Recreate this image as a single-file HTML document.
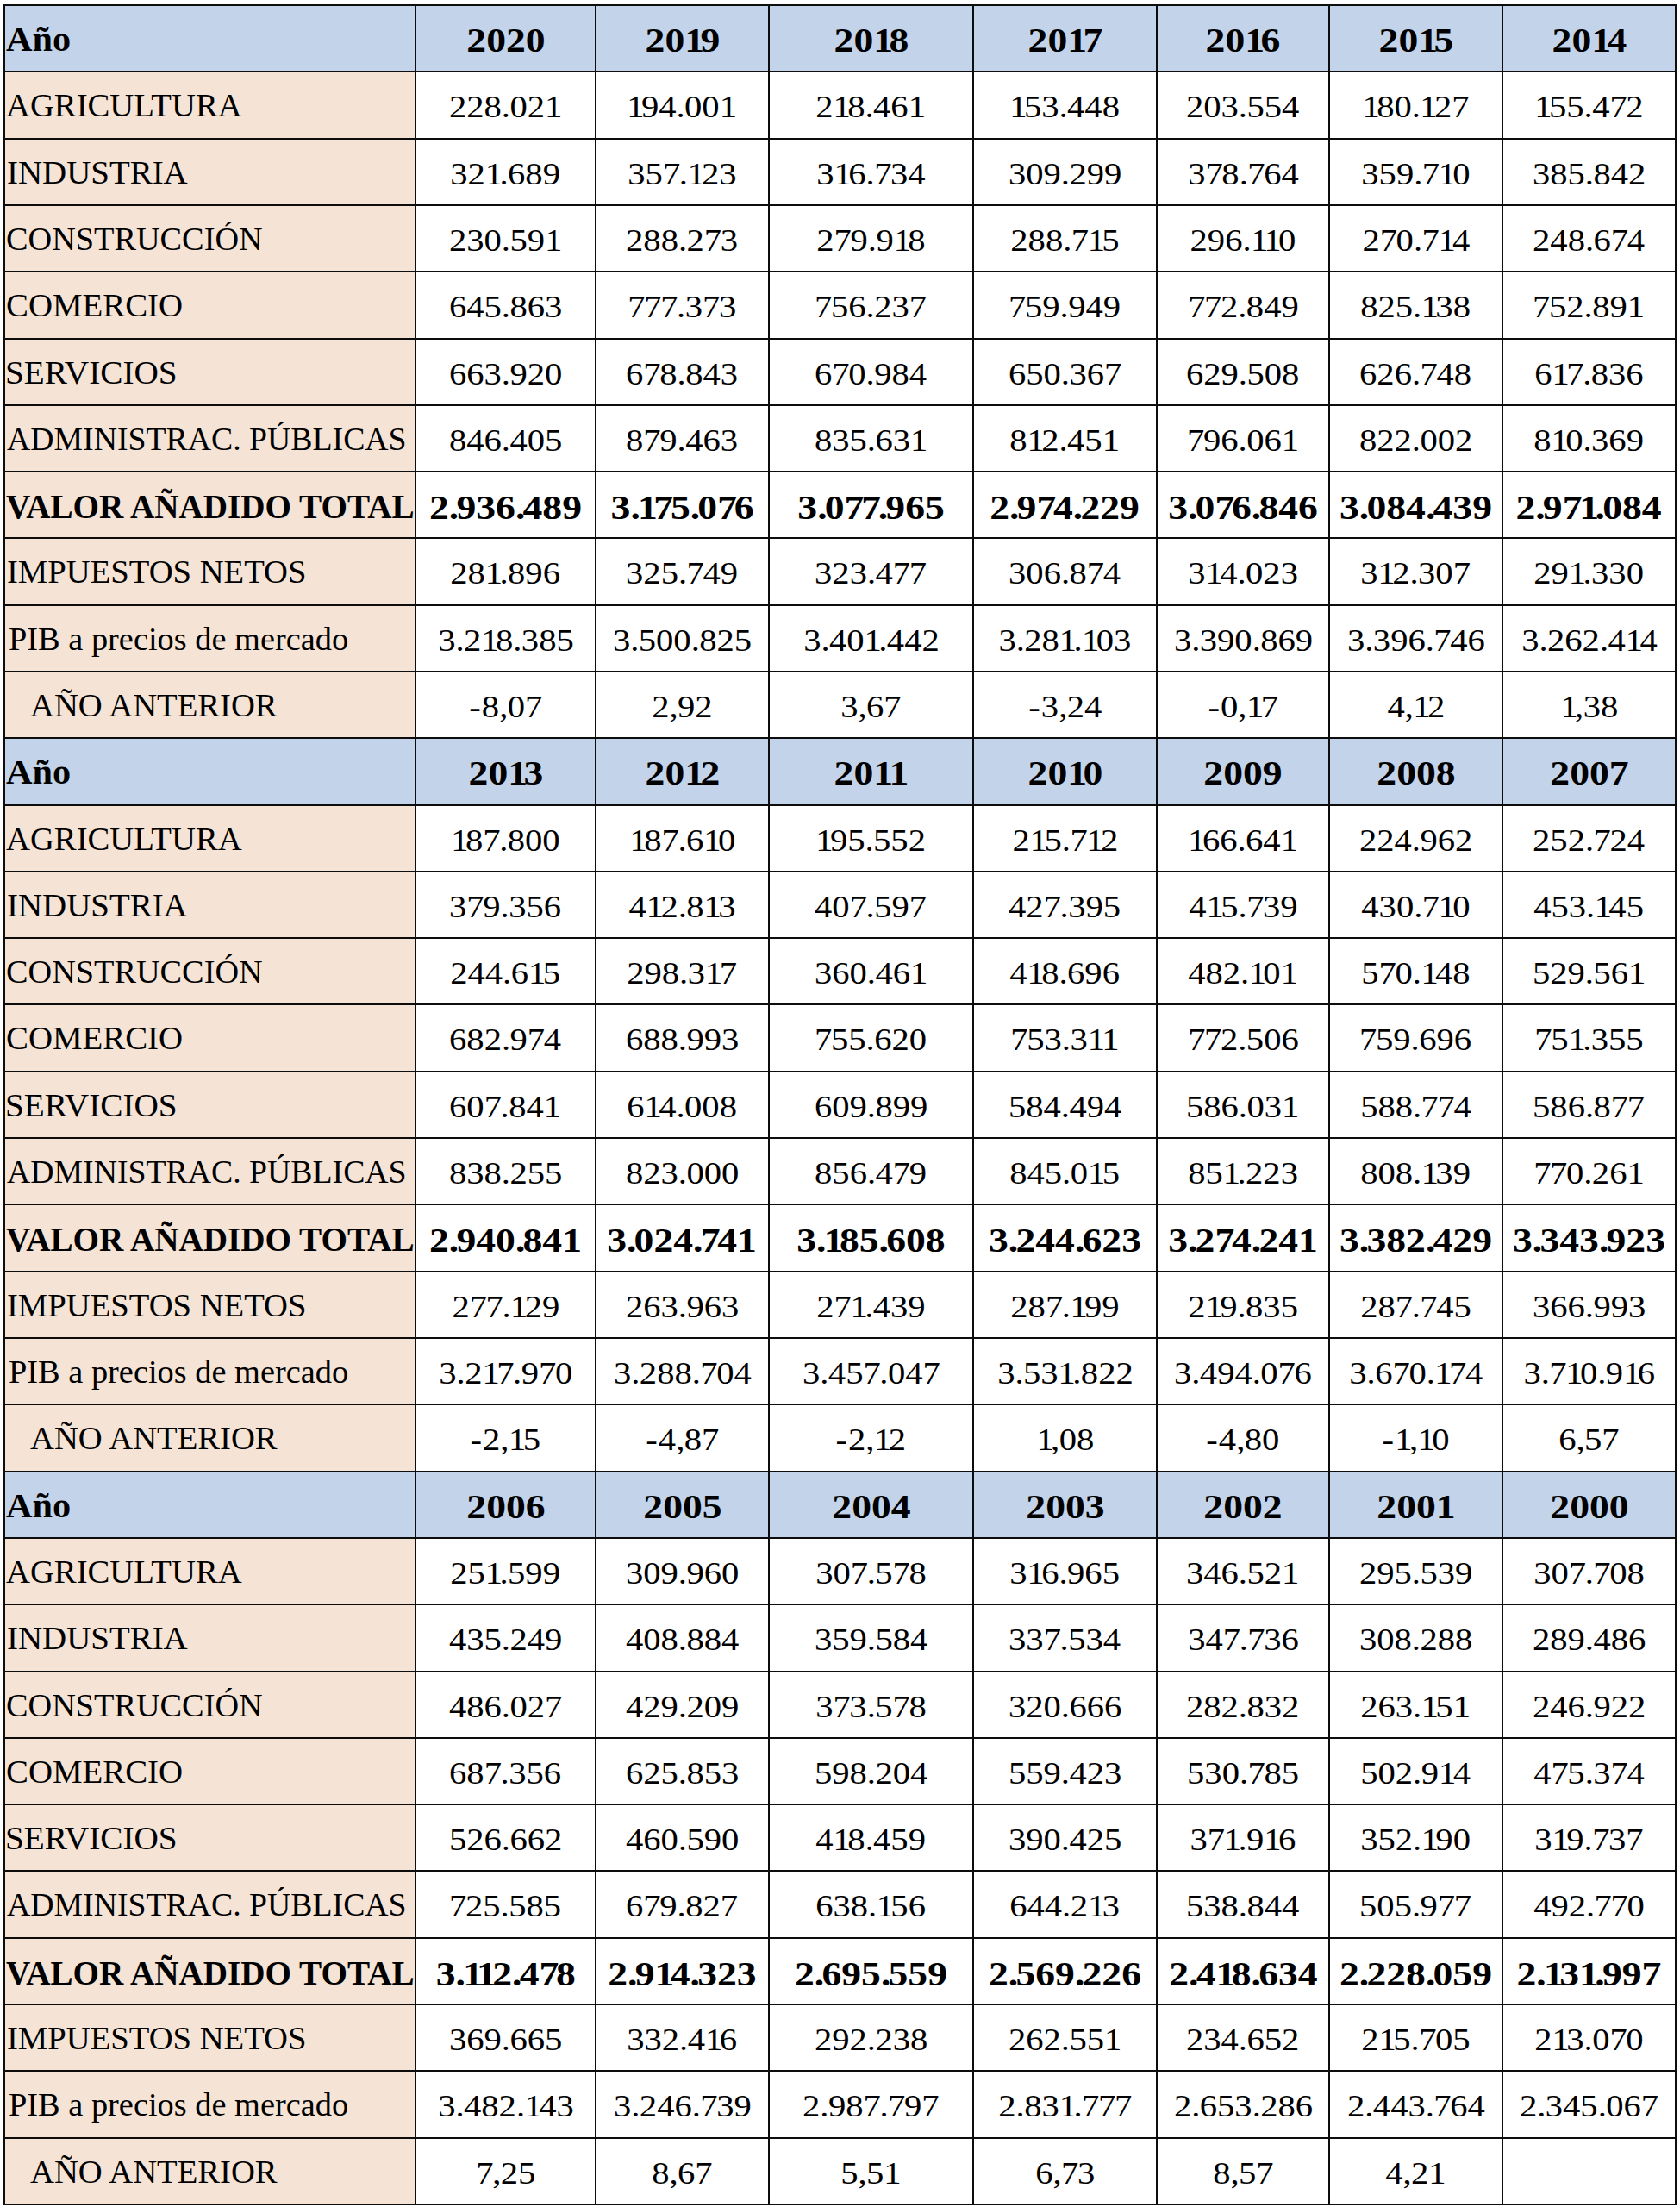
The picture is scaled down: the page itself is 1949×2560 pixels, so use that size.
<!DOCTYPE html><html><head><meta charset="utf-8"><style>
html,body{margin:0;padding:0;background:#fff;}
body{width:1949px;height:2560px;position:relative;overflow:hidden;font-family:"Liberation Serif",serif;color:#000;}
.r{position:absolute;}
.t{position:absolute;white-space:nowrap;line-height:0;height:0;}
.t span{display:inline-block;line-height:0;}
.c{text-align:center;}
.c span{transform-origin:50% 0;}
.l span{transform-origin:0 0;}
.b{font-weight:bold;}
.c x{letter-spacing:-0.50px}.c y{letter-spacing:-3.12px}.c z{letter-spacing:-1.19px}.c w{letter-spacing:1.01px}
.c.b x{letter-spacing:-2.50px}.c.b y{letter-spacing:-4.07px}.c.b z{letter-spacing:-2.93px}
</style></head><body>
<div class="r" style="left:4px;top:5px;width:1941px;height:77px;background:#c3d4ea"></div>
<div class="r" style="left:4px;top:82px;width:477px;height:773px;background:#f5e4d6"></div>
<div class="r" style="left:4px;top:855px;width:1941px;height:78px;background:#c3d4ea"></div>
<div class="r" style="left:4px;top:933px;width:477px;height:773px;background:#f5e4d6"></div>
<div class="r" style="left:4px;top:1706px;width:1941px;height:77px;background:#c3d4ea"></div>
<div class="r" style="left:4px;top:1783px;width:477px;height:773px;background:#f5e4d6"></div>
<div class="t l b" style="left:7.10px;top:45.80px;font-size:40.00px;"><span style="transform:scaleX(1.0571)">Año</span></div>
<div class="t c b" style="left:483.00px;top:46.06px;font-size:41.00px;width:207.00px;"><span style="transform:scaleX(1.1130)">2020</span></div>
<div class="t c b" style="left:692.00px;top:46.06px;font-size:41.00px;width:199.00px;"><span style="transform:scaleX(1.1130)">20<y>1</y>9</span></div>
<div class="t c b" style="left:893.00px;top:46.06px;font-size:41.00px;width:235.00px;"><span style="transform:scaleX(1.1130)">20<y>1</y>8</span></div>
<div class="t c b" style="left:1130.00px;top:46.06px;font-size:41.00px;width:211.00px;"><span style="transform:scaleX(1.1130)">20<y>1</y>7</span></div>
<div class="t c b" style="left:1343.00px;top:46.06px;font-size:41.00px;width:198.00px;"><span style="transform:scaleX(1.1130)">20<y>1</y>6</span></div>
<div class="t c b" style="left:1543.00px;top:46.06px;font-size:41.00px;width:199.00px;"><span style="transform:scaleX(1.1130)">20<y>1</y>5</span></div>
<div class="t c b" style="left:1744.00px;top:46.06px;font-size:41.00px;width:199.00px;"><span style="transform:scaleX(1.1130)">20<y>1</y>4</span></div>
<div class="t l" style="left:6.90px;top:123.04px;font-size:37.50px;"><span style="transform:scaleX(1.0313)">AGRICULTURA</span></div>
<div class="t c" style="left:483.00px;top:125.19px;font-size:35.00px;width:207.00px;"><span style="transform:scaleX(1.1600)">228<x>.</x>021</span></div>
<div class="t c" style="left:692.00px;top:125.19px;font-size:35.00px;width:199.00px;"><span style="transform:scaleX(1.1600)"><y>1</y>94<x>.</x>001</span></div>
<div class="t c" style="left:893.00px;top:125.19px;font-size:35.00px;width:235.00px;"><span style="transform:scaleX(1.1600)">2<y>1</y>8<x>.</x>461</span></div>
<div class="t c" style="left:1130.00px;top:125.19px;font-size:35.00px;width:211.00px;"><span style="transform:scaleX(1.1600)"><y>1</y>53<x>.</x>448</span></div>
<div class="t c" style="left:1343.00px;top:125.19px;font-size:35.00px;width:198.00px;"><span style="transform:scaleX(1.1600)">203<x>.</x>554</span></div>
<div class="t c" style="left:1543.00px;top:125.19px;font-size:35.00px;width:199.00px;"><span style="transform:scaleX(1.1600)"><y>1</y>80<x>.</x><y>1</y>27</span></div>
<div class="t c" style="left:1744.00px;top:125.19px;font-size:35.00px;width:199.00px;"><span style="transform:scaleX(1.1600)"><y>1</y>55<x>.</x>4<z>7</z>2</span></div>
<div class="t l" style="left:8.46px;top:201.04px;font-size:37.50px;"><span style="transform:scaleX(1.0378)">INDUSTRIA</span></div>
<div class="t c" style="left:483.00px;top:203.19px;font-size:35.00px;width:207.00px;"><span style="transform:scaleX(1.1600)">32<y>1</y><x>.</x>689</span></div>
<div class="t c" style="left:692.00px;top:203.19px;font-size:35.00px;width:199.00px;"><span style="transform:scaleX(1.1600)">35<z>7</z><x>.</x><y>1</y>23</span></div>
<div class="t c" style="left:893.00px;top:203.19px;font-size:35.00px;width:235.00px;"><span style="transform:scaleX(1.1600)">3<y>1</y>6<x>.</x><z>7</z>34</span></div>
<div class="t c" style="left:1130.00px;top:203.19px;font-size:35.00px;width:211.00px;"><span style="transform:scaleX(1.1600)">309<x>.</x>299</span></div>
<div class="t c" style="left:1343.00px;top:203.19px;font-size:35.00px;width:198.00px;"><span style="transform:scaleX(1.1600)">3<z>7</z>8<x>.</x><z>7</z>64</span></div>
<div class="t c" style="left:1543.00px;top:203.19px;font-size:35.00px;width:199.00px;"><span style="transform:scaleX(1.1600)">359<x>.</x><z>7</z><y>1</y>0</span></div>
<div class="t c" style="left:1744.00px;top:203.19px;font-size:35.00px;width:199.00px;"><span style="transform:scaleX(1.1600)">385<x>.</x>842</span></div>
<div class="t l" style="left:6.76px;top:278.04px;font-size:37.50px;"><span style="transform:scaleX(1.0204)">CONSTRUCCIÓN</span></div>
<div class="t c" style="left:483.00px;top:280.19px;font-size:35.00px;width:207.00px;"><span style="transform:scaleX(1.1600)">230<x>.</x>591</span></div>
<div class="t c" style="left:692.00px;top:280.19px;font-size:35.00px;width:199.00px;"><span style="transform:scaleX(1.1600)">288<x>.</x>2<z>7</z>3</span></div>
<div class="t c" style="left:893.00px;top:280.19px;font-size:35.00px;width:235.00px;"><span style="transform:scaleX(1.1600)">2<z>7</z>9<x>.</x>9<y>1</y>8</span></div>
<div class="t c" style="left:1130.00px;top:280.19px;font-size:35.00px;width:211.00px;"><span style="transform:scaleX(1.1600)">288<x>.</x><z>7</z><y>1</y>5</span></div>
<div class="t c" style="left:1343.00px;top:280.19px;font-size:35.00px;width:198.00px;"><span style="transform:scaleX(1.1600)">296<x>.</x><y>1</y><y>1</y>0</span></div>
<div class="t c" style="left:1543.00px;top:280.19px;font-size:35.00px;width:199.00px;"><span style="transform:scaleX(1.1600)">2<z>7</z>0<x>.</x><z>7</z><y>1</y>4</span></div>
<div class="t c" style="left:1744.00px;top:280.19px;font-size:35.00px;width:199.00px;"><span style="transform:scaleX(1.1600)">248<x>.</x>6<z>7</z>4</span></div>
<div class="t l" style="left:6.73px;top:355.04px;font-size:37.50px;"><span style="transform:scaleX(1.0361)">COMERCIO</span></div>
<div class="t c" style="left:483.00px;top:357.19px;font-size:35.00px;width:207.00px;"><span style="transform:scaleX(1.1600)">645<x>.</x>863</span></div>
<div class="t c" style="left:692.00px;top:357.19px;font-size:35.00px;width:199.00px;"><span style="transform:scaleX(1.1600)"><z>7</z><z>7</z><z>7</z><x>.</x>3<z>7</z>3</span></div>
<div class="t c" style="left:893.00px;top:357.19px;font-size:35.00px;width:235.00px;"><span style="transform:scaleX(1.1600)"><z>7</z>56<x>.</x>237</span></div>
<div class="t c" style="left:1130.00px;top:357.19px;font-size:35.00px;width:211.00px;"><span style="transform:scaleX(1.1600)"><z>7</z>59<x>.</x>949</span></div>
<div class="t c" style="left:1343.00px;top:357.19px;font-size:35.00px;width:198.00px;"><span style="transform:scaleX(1.1600)"><z>7</z><z>7</z>2<x>.</x>849</span></div>
<div class="t c" style="left:1543.00px;top:357.19px;font-size:35.00px;width:199.00px;"><span style="transform:scaleX(1.1600)">825<x>.</x><y>1</y>38</span></div>
<div class="t c" style="left:1744.00px;top:357.19px;font-size:35.00px;width:199.00px;"><span style="transform:scaleX(1.1600)"><z>7</z>52<x>.</x>891</span></div>
<div class="t l" style="left:5.66px;top:433.04px;font-size:37.50px;"><span style="transform:scaleX(1.0468)">SERVICIOS</span></div>
<div class="t c" style="left:483.00px;top:435.19px;font-size:35.00px;width:207.00px;"><span style="transform:scaleX(1.1600)">663<x>.</x>920</span></div>
<div class="t c" style="left:692.00px;top:435.19px;font-size:35.00px;width:199.00px;"><span style="transform:scaleX(1.1600)">6<z>7</z>8<x>.</x>843</span></div>
<div class="t c" style="left:893.00px;top:435.19px;font-size:35.00px;width:235.00px;"><span style="transform:scaleX(1.1600)">6<z>7</z>0<x>.</x>984</span></div>
<div class="t c" style="left:1130.00px;top:435.19px;font-size:35.00px;width:211.00px;"><span style="transform:scaleX(1.1600)">650<x>.</x>367</span></div>
<div class="t c" style="left:1343.00px;top:435.19px;font-size:35.00px;width:198.00px;"><span style="transform:scaleX(1.1600)">629<x>.</x>508</span></div>
<div class="t c" style="left:1543.00px;top:435.19px;font-size:35.00px;width:199.00px;"><span style="transform:scaleX(1.1600)">626<x>.</x><z>7</z>48</span></div>
<div class="t c" style="left:1744.00px;top:435.19px;font-size:35.00px;width:199.00px;"><span style="transform:scaleX(1.1600)">6<y>1</y><z>7</z><x>.</x>836</span></div>
<div class="t l" style="left:7.50px;top:510.04px;font-size:37.50px;"><span style="transform:scaleX(1.0068)">ADMINISTRAC. PÚBLICAS</span></div>
<div class="t c" style="left:483.00px;top:512.19px;font-size:35.00px;width:207.00px;"><span style="transform:scaleX(1.1600)">846<x>.</x>405</span></div>
<div class="t c" style="left:692.00px;top:512.19px;font-size:35.00px;width:199.00px;"><span style="transform:scaleX(1.1600)">8<z>7</z>9<x>.</x>463</span></div>
<div class="t c" style="left:893.00px;top:512.19px;font-size:35.00px;width:235.00px;"><span style="transform:scaleX(1.1600)">835<x>.</x>631</span></div>
<div class="t c" style="left:1130.00px;top:512.19px;font-size:35.00px;width:211.00px;"><span style="transform:scaleX(1.1600)">8<y>1</y>2<x>.</x>451</span></div>
<div class="t c" style="left:1343.00px;top:512.19px;font-size:35.00px;width:198.00px;"><span style="transform:scaleX(1.1600)"><z>7</z>96<x>.</x>061</span></div>
<div class="t c" style="left:1543.00px;top:512.19px;font-size:35.00px;width:199.00px;"><span style="transform:scaleX(1.1600)">822<x>.</x>002</span></div>
<div class="t c" style="left:1744.00px;top:512.19px;font-size:35.00px;width:199.00px;"><span style="transform:scaleX(1.1600)">8<y>1</y>0<x>.</x>369</span></div>
<div class="t l b" style="left:6.80px;top:587.60px;font-size:40.00px;"><span style="transform:scaleX(0.9788)">VALOR AÑADIDO TOTAL</span></div>
<div class="t c b" style="left:483.00px;top:587.96px;font-size:41.00px;width:207.00px;"><span style="transform:scaleX(1.1130)">2<x>.</x>936<x>.</x>489</span></div>
<div class="t c b" style="left:692.00px;top:587.96px;font-size:41.00px;width:199.00px;"><span style="transform:scaleX(1.1130)">3<x>.</x><y>1</y><z>7</z>5<x>.</x>0<z>7</z>6</span></div>
<div class="t c b" style="left:893.00px;top:587.96px;font-size:41.00px;width:235.00px;"><span style="transform:scaleX(1.1130)">3<x>.</x>0<z>7</z><z>7</z><x>.</x>965</span></div>
<div class="t c b" style="left:1130.00px;top:587.96px;font-size:41.00px;width:211.00px;"><span style="transform:scaleX(1.1130)">2<x>.</x>9<z>7</z>4<x>.</x>229</span></div>
<div class="t c b" style="left:1343.00px;top:587.96px;font-size:41.00px;width:198.00px;"><span style="transform:scaleX(1.1130)">3<x>.</x>0<z>7</z>6<x>.</x>846</span></div>
<div class="t c b" style="left:1543.00px;top:587.96px;font-size:41.00px;width:199.00px;"><span style="transform:scaleX(1.1130)">3<x>.</x>084<x>.</x>439</span></div>
<div class="t c b" style="left:1744.00px;top:587.96px;font-size:41.00px;width:199.00px;"><span style="transform:scaleX(1.1130)">2<x>.</x>9<z>7</z><y>1</y><x>.</x>084</span></div>
<div class="t l" style="left:8.47px;top:664.04px;font-size:37.50px;"><span style="transform:scaleX(1.0305)">IMPUESTOS NETOS</span></div>
<div class="t c" style="left:483.00px;top:666.19px;font-size:35.00px;width:207.00px;"><span style="transform:scaleX(1.1600)">28<y>1</y><x>.</x>896</span></div>
<div class="t c" style="left:692.00px;top:666.19px;font-size:35.00px;width:199.00px;"><span style="transform:scaleX(1.1600)">325<x>.</x><z>7</z>49</span></div>
<div class="t c" style="left:893.00px;top:666.19px;font-size:35.00px;width:235.00px;"><span style="transform:scaleX(1.1600)">323<x>.</x>4<z>7</z>7</span></div>
<div class="t c" style="left:1130.00px;top:666.19px;font-size:35.00px;width:211.00px;"><span style="transform:scaleX(1.1600)">306<x>.</x>8<z>7</z>4</span></div>
<div class="t c" style="left:1343.00px;top:666.19px;font-size:35.00px;width:198.00px;"><span style="transform:scaleX(1.1600)">3<y>1</y>4<x>.</x>023</span></div>
<div class="t c" style="left:1543.00px;top:666.19px;font-size:35.00px;width:199.00px;"><span style="transform:scaleX(1.1600)">3<y>1</y>2<x>.</x>307</span></div>
<div class="t c" style="left:1744.00px;top:666.19px;font-size:35.00px;width:199.00px;"><span style="transform:scaleX(1.1600)">29<y>1</y><x>.</x>330</span></div>
<div class="t l" style="left:9.68px;top:742.04px;font-size:37.50px;"><span style="transform:scaleX(1.0230)">PIB a precios de mercado</span></div>
<div class="t c" style="left:483.00px;top:744.19px;font-size:35.00px;width:207.00px;"><span style="transform:scaleX(1.1600)">3<x>.</x>2<y>1</y>8<x>.</x>385</span></div>
<div class="t c" style="left:692.00px;top:744.19px;font-size:35.00px;width:199.00px;"><span style="transform:scaleX(1.1600)">3<x>.</x>500<x>.</x>825</span></div>
<div class="t c" style="left:893.00px;top:744.19px;font-size:35.00px;width:235.00px;"><span style="transform:scaleX(1.1600)">3<x>.</x>40<y>1</y><x>.</x>442</span></div>
<div class="t c" style="left:1130.00px;top:744.19px;font-size:35.00px;width:211.00px;"><span style="transform:scaleX(1.1600)">3<x>.</x>28<y>1</y><x>.</x><y>1</y>03</span></div>
<div class="t c" style="left:1343.00px;top:744.19px;font-size:35.00px;width:198.00px;"><span style="transform:scaleX(1.1600)">3<x>.</x>390<x>.</x>869</span></div>
<div class="t c" style="left:1543.00px;top:744.19px;font-size:35.00px;width:199.00px;"><span style="transform:scaleX(1.1600)">3<x>.</x>396<x>.</x><z>7</z>46</span></div>
<div class="t c" style="left:1744.00px;top:744.19px;font-size:35.00px;width:199.00px;"><span style="transform:scaleX(1.1600)">3<x>.</x>262<x>.</x>4<y>1</y>4</span></div>
<div class="t l" style="left:34.50px;top:819.04px;font-size:37.50px;"><span style="transform:scaleX(1.0306)">AÑO ANTERIOR</span></div>
<div class="t c" style="left:483.00px;top:821.19px;font-size:35.00px;width:207.00px;"><span style="transform:scaleX(1.1600)"><w>-</w>8<x>,</x>07</span></div>
<div class="t c" style="left:692.00px;top:821.19px;font-size:35.00px;width:199.00px;"><span style="transform:scaleX(1.1600)">2<x>,</x>92</span></div>
<div class="t c" style="left:893.00px;top:821.19px;font-size:35.00px;width:235.00px;"><span style="transform:scaleX(1.1600)">3<x>,</x>67</span></div>
<div class="t c" style="left:1130.00px;top:821.19px;font-size:35.00px;width:211.00px;"><span style="transform:scaleX(1.1600)"><w>-</w>3<x>,</x>24</span></div>
<div class="t c" style="left:1343.00px;top:821.19px;font-size:35.00px;width:198.00px;"><span style="transform:scaleX(1.1600)"><w>-</w>0<x>,</x><y>1</y>7</span></div>
<div class="t c" style="left:1543.00px;top:821.19px;font-size:35.00px;width:199.00px;"><span style="transform:scaleX(1.1600)">4<x>,</x><y>1</y>2</span></div>
<div class="t c" style="left:1744.00px;top:821.19px;font-size:35.00px;width:199.00px;"><span style="transform:scaleX(1.1600)"><y>1</y><x>,</x>38</span></div>
<div class="t l b" style="left:7.10px;top:895.80px;font-size:40.00px;"><span style="transform:scaleX(1.0571)">Año</span></div>
<div class="t c b" style="left:483.00px;top:896.06px;font-size:41.00px;width:207.00px;"><span style="transform:scaleX(1.1130)">20<y>1</y>3</span></div>
<div class="t c b" style="left:692.00px;top:896.06px;font-size:41.00px;width:199.00px;"><span style="transform:scaleX(1.1130)">20<y>1</y>2</span></div>
<div class="t c b" style="left:893.00px;top:896.06px;font-size:41.00px;width:235.00px;"><span style="transform:scaleX(1.1130)">20<y>1</y>1</span></div>
<div class="t c b" style="left:1130.00px;top:896.06px;font-size:41.00px;width:211.00px;"><span style="transform:scaleX(1.1130)">20<y>1</y>0</span></div>
<div class="t c b" style="left:1343.00px;top:896.06px;font-size:41.00px;width:198.00px;"><span style="transform:scaleX(1.1130)">2009</span></div>
<div class="t c b" style="left:1543.00px;top:896.06px;font-size:41.00px;width:199.00px;"><span style="transform:scaleX(1.1130)">2008</span></div>
<div class="t c b" style="left:1744.00px;top:896.06px;font-size:41.00px;width:199.00px;"><span style="transform:scaleX(1.1130)">2007</span></div>
<div class="t l" style="left:6.90px;top:974.04px;font-size:37.50px;"><span style="transform:scaleX(1.0313)">AGRICULTURA</span></div>
<div class="t c" style="left:483.00px;top:976.19px;font-size:35.00px;width:207.00px;"><span style="transform:scaleX(1.1600)"><y>1</y>8<z>7</z><x>.</x>800</span></div>
<div class="t c" style="left:692.00px;top:976.19px;font-size:35.00px;width:199.00px;"><span style="transform:scaleX(1.1600)"><y>1</y>8<z>7</z><x>.</x>6<y>1</y>0</span></div>
<div class="t c" style="left:893.00px;top:976.19px;font-size:35.00px;width:235.00px;"><span style="transform:scaleX(1.1600)"><y>1</y>95<x>.</x>552</span></div>
<div class="t c" style="left:1130.00px;top:976.19px;font-size:35.00px;width:211.00px;"><span style="transform:scaleX(1.1600)">2<y>1</y>5<x>.</x><z>7</z><y>1</y>2</span></div>
<div class="t c" style="left:1343.00px;top:976.19px;font-size:35.00px;width:198.00px;"><span style="transform:scaleX(1.1600)"><y>1</y>66<x>.</x>641</span></div>
<div class="t c" style="left:1543.00px;top:976.19px;font-size:35.00px;width:199.00px;"><span style="transform:scaleX(1.1600)">224<x>.</x>962</span></div>
<div class="t c" style="left:1744.00px;top:976.19px;font-size:35.00px;width:199.00px;"><span style="transform:scaleX(1.1600)">252<x>.</x><z>7</z>24</span></div>
<div class="t l" style="left:8.46px;top:1051.04px;font-size:37.50px;"><span style="transform:scaleX(1.0378)">INDUSTRIA</span></div>
<div class="t c" style="left:483.00px;top:1053.19px;font-size:35.00px;width:207.00px;"><span style="transform:scaleX(1.1600)">3<z>7</z>9<x>.</x>356</span></div>
<div class="t c" style="left:692.00px;top:1053.19px;font-size:35.00px;width:199.00px;"><span style="transform:scaleX(1.1600)">4<y>1</y>2<x>.</x>8<y>1</y>3</span></div>
<div class="t c" style="left:893.00px;top:1053.19px;font-size:35.00px;width:235.00px;"><span style="transform:scaleX(1.1600)">40<z>7</z><x>.</x>597</span></div>
<div class="t c" style="left:1130.00px;top:1053.19px;font-size:35.00px;width:211.00px;"><span style="transform:scaleX(1.1600)">42<z>7</z><x>.</x>395</span></div>
<div class="t c" style="left:1343.00px;top:1053.19px;font-size:35.00px;width:198.00px;"><span style="transform:scaleX(1.1600)">4<y>1</y>5<x>.</x><z>7</z>39</span></div>
<div class="t c" style="left:1543.00px;top:1053.19px;font-size:35.00px;width:199.00px;"><span style="transform:scaleX(1.1600)">430<x>.</x><z>7</z><y>1</y>0</span></div>
<div class="t c" style="left:1744.00px;top:1053.19px;font-size:35.00px;width:199.00px;"><span style="transform:scaleX(1.1600)">453<x>.</x><y>1</y>45</span></div>
<div class="t l" style="left:6.76px;top:1128.04px;font-size:37.50px;"><span style="transform:scaleX(1.0204)">CONSTRUCCIÓN</span></div>
<div class="t c" style="left:483.00px;top:1130.19px;font-size:35.00px;width:207.00px;"><span style="transform:scaleX(1.1600)">244<x>.</x>6<y>1</y>5</span></div>
<div class="t c" style="left:692.00px;top:1130.19px;font-size:35.00px;width:199.00px;"><span style="transform:scaleX(1.1600)">298<x>.</x>3<y>1</y>7</span></div>
<div class="t c" style="left:893.00px;top:1130.19px;font-size:35.00px;width:235.00px;"><span style="transform:scaleX(1.1600)">360<x>.</x>461</span></div>
<div class="t c" style="left:1130.00px;top:1130.19px;font-size:35.00px;width:211.00px;"><span style="transform:scaleX(1.1600)">4<y>1</y>8<x>.</x>696</span></div>
<div class="t c" style="left:1343.00px;top:1130.19px;font-size:35.00px;width:198.00px;"><span style="transform:scaleX(1.1600)">482<x>.</x><y>1</y>01</span></div>
<div class="t c" style="left:1543.00px;top:1130.19px;font-size:35.00px;width:199.00px;"><span style="transform:scaleX(1.1600)">5<z>7</z>0<x>.</x><y>1</y>48</span></div>
<div class="t c" style="left:1744.00px;top:1130.19px;font-size:35.00px;width:199.00px;"><span style="transform:scaleX(1.1600)">529<x>.</x>561</span></div>
<div class="t l" style="left:6.73px;top:1205.04px;font-size:37.50px;"><span style="transform:scaleX(1.0361)">COMERCIO</span></div>
<div class="t c" style="left:483.00px;top:1207.19px;font-size:35.00px;width:207.00px;"><span style="transform:scaleX(1.1600)">682<x>.</x>9<z>7</z>4</span></div>
<div class="t c" style="left:692.00px;top:1207.19px;font-size:35.00px;width:199.00px;"><span style="transform:scaleX(1.1600)">688<x>.</x>993</span></div>
<div class="t c" style="left:893.00px;top:1207.19px;font-size:35.00px;width:235.00px;"><span style="transform:scaleX(1.1600)"><z>7</z>55<x>.</x>620</span></div>
<div class="t c" style="left:1130.00px;top:1207.19px;font-size:35.00px;width:211.00px;"><span style="transform:scaleX(1.1600)"><z>7</z>53<x>.</x>3<y>1</y>1</span></div>
<div class="t c" style="left:1343.00px;top:1207.19px;font-size:35.00px;width:198.00px;"><span style="transform:scaleX(1.1600)"><z>7</z><z>7</z>2<x>.</x>506</span></div>
<div class="t c" style="left:1543.00px;top:1207.19px;font-size:35.00px;width:199.00px;"><span style="transform:scaleX(1.1600)"><z>7</z>59<x>.</x>696</span></div>
<div class="t c" style="left:1744.00px;top:1207.19px;font-size:35.00px;width:199.00px;"><span style="transform:scaleX(1.1600)"><z>7</z>5<y>1</y><x>.</x>355</span></div>
<div class="t l" style="left:5.66px;top:1283.04px;font-size:37.50px;"><span style="transform:scaleX(1.0468)">SERVICIOS</span></div>
<div class="t c" style="left:483.00px;top:1285.19px;font-size:35.00px;width:207.00px;"><span style="transform:scaleX(1.1600)">60<z>7</z><x>.</x>841</span></div>
<div class="t c" style="left:692.00px;top:1285.19px;font-size:35.00px;width:199.00px;"><span style="transform:scaleX(1.1600)">6<y>1</y>4<x>.</x>008</span></div>
<div class="t c" style="left:893.00px;top:1285.19px;font-size:35.00px;width:235.00px;"><span style="transform:scaleX(1.1600)">609<x>.</x>899</span></div>
<div class="t c" style="left:1130.00px;top:1285.19px;font-size:35.00px;width:211.00px;"><span style="transform:scaleX(1.1600)">584<x>.</x>494</span></div>
<div class="t c" style="left:1343.00px;top:1285.19px;font-size:35.00px;width:198.00px;"><span style="transform:scaleX(1.1600)">586<x>.</x>031</span></div>
<div class="t c" style="left:1543.00px;top:1285.19px;font-size:35.00px;width:199.00px;"><span style="transform:scaleX(1.1600)">588<x>.</x><z>7</z><z>7</z>4</span></div>
<div class="t c" style="left:1744.00px;top:1285.19px;font-size:35.00px;width:199.00px;"><span style="transform:scaleX(1.1600)">586<x>.</x>8<z>7</z>7</span></div>
<div class="t l" style="left:7.50px;top:1360.04px;font-size:37.50px;"><span style="transform:scaleX(1.0068)">ADMINISTRAC. PÚBLICAS</span></div>
<div class="t c" style="left:483.00px;top:1362.19px;font-size:35.00px;width:207.00px;"><span style="transform:scaleX(1.1600)">838<x>.</x>255</span></div>
<div class="t c" style="left:692.00px;top:1362.19px;font-size:35.00px;width:199.00px;"><span style="transform:scaleX(1.1600)">823<x>.</x>000</span></div>
<div class="t c" style="left:893.00px;top:1362.19px;font-size:35.00px;width:235.00px;"><span style="transform:scaleX(1.1600)">856<x>.</x>4<z>7</z>9</span></div>
<div class="t c" style="left:1130.00px;top:1362.19px;font-size:35.00px;width:211.00px;"><span style="transform:scaleX(1.1600)">845<x>.</x>0<y>1</y>5</span></div>
<div class="t c" style="left:1343.00px;top:1362.19px;font-size:35.00px;width:198.00px;"><span style="transform:scaleX(1.1600)">85<y>1</y><x>.</x>223</span></div>
<div class="t c" style="left:1543.00px;top:1362.19px;font-size:35.00px;width:199.00px;"><span style="transform:scaleX(1.1600)">808<x>.</x><y>1</y>39</span></div>
<div class="t c" style="left:1744.00px;top:1362.19px;font-size:35.00px;width:199.00px;"><span style="transform:scaleX(1.1600)"><z>7</z><z>7</z>0<x>.</x>261</span></div>
<div class="t l b" style="left:6.80px;top:1437.60px;font-size:40.00px;"><span style="transform:scaleX(0.9788)">VALOR AÑADIDO TOTAL</span></div>
<div class="t c b" style="left:483.00px;top:1437.96px;font-size:41.00px;width:207.00px;"><span style="transform:scaleX(1.1130)">2<x>.</x>940<x>.</x>841</span></div>
<div class="t c b" style="left:692.00px;top:1437.96px;font-size:41.00px;width:199.00px;"><span style="transform:scaleX(1.1130)">3<x>.</x>024<x>.</x><z>7</z>41</span></div>
<div class="t c b" style="left:893.00px;top:1437.96px;font-size:41.00px;width:235.00px;"><span style="transform:scaleX(1.1130)">3<x>.</x><y>1</y>85<x>.</x>608</span></div>
<div class="t c b" style="left:1130.00px;top:1437.96px;font-size:41.00px;width:211.00px;"><span style="transform:scaleX(1.1130)">3<x>.</x>244<x>.</x>623</span></div>
<div class="t c b" style="left:1343.00px;top:1437.96px;font-size:41.00px;width:198.00px;"><span style="transform:scaleX(1.1130)">3<x>.</x>2<z>7</z>4<x>.</x>241</span></div>
<div class="t c b" style="left:1543.00px;top:1437.96px;font-size:41.00px;width:199.00px;"><span style="transform:scaleX(1.1130)">3<x>.</x>382<x>.</x>429</span></div>
<div class="t c b" style="left:1744.00px;top:1437.96px;font-size:41.00px;width:199.00px;"><span style="transform:scaleX(1.1130)">3<x>.</x>343<x>.</x>923</span></div>
<div class="t l" style="left:8.47px;top:1515.04px;font-size:37.50px;"><span style="transform:scaleX(1.0305)">IMPUESTOS NETOS</span></div>
<div class="t c" style="left:483.00px;top:1517.19px;font-size:35.00px;width:207.00px;"><span style="transform:scaleX(1.1600)">2<z>7</z><z>7</z><x>.</x><y>1</y>29</span></div>
<div class="t c" style="left:692.00px;top:1517.19px;font-size:35.00px;width:199.00px;"><span style="transform:scaleX(1.1600)">263<x>.</x>963</span></div>
<div class="t c" style="left:893.00px;top:1517.19px;font-size:35.00px;width:235.00px;"><span style="transform:scaleX(1.1600)">2<z>7</z><y>1</y><x>.</x>439</span></div>
<div class="t c" style="left:1130.00px;top:1517.19px;font-size:35.00px;width:211.00px;"><span style="transform:scaleX(1.1600)">28<z>7</z><x>.</x><y>1</y>99</span></div>
<div class="t c" style="left:1343.00px;top:1517.19px;font-size:35.00px;width:198.00px;"><span style="transform:scaleX(1.1600)">2<y>1</y>9<x>.</x>835</span></div>
<div class="t c" style="left:1543.00px;top:1517.19px;font-size:35.00px;width:199.00px;"><span style="transform:scaleX(1.1600)">28<z>7</z><x>.</x><z>7</z>45</span></div>
<div class="t c" style="left:1744.00px;top:1517.19px;font-size:35.00px;width:199.00px;"><span style="transform:scaleX(1.1600)">366<x>.</x>993</span></div>
<div class="t l" style="left:9.68px;top:1592.04px;font-size:37.50px;"><span style="transform:scaleX(1.0230)">PIB a precios de mercado</span></div>
<div class="t c" style="left:483.00px;top:1594.19px;font-size:35.00px;width:207.00px;"><span style="transform:scaleX(1.1600)">3<x>.</x>2<y>1</y><z>7</z><x>.</x>9<z>7</z>0</span></div>
<div class="t c" style="left:692.00px;top:1594.19px;font-size:35.00px;width:199.00px;"><span style="transform:scaleX(1.1600)">3<x>.</x>288<x>.</x><z>7</z>04</span></div>
<div class="t c" style="left:893.00px;top:1594.19px;font-size:35.00px;width:235.00px;"><span style="transform:scaleX(1.1600)">3<x>.</x>45<z>7</z><x>.</x>047</span></div>
<div class="t c" style="left:1130.00px;top:1594.19px;font-size:35.00px;width:211.00px;"><span style="transform:scaleX(1.1600)">3<x>.</x>53<y>1</y><x>.</x>822</span></div>
<div class="t c" style="left:1343.00px;top:1594.19px;font-size:35.00px;width:198.00px;"><span style="transform:scaleX(1.1600)">3<x>.</x>494<x>.</x>0<z>7</z>6</span></div>
<div class="t c" style="left:1543.00px;top:1594.19px;font-size:35.00px;width:199.00px;"><span style="transform:scaleX(1.1600)">3<x>.</x>6<z>7</z>0<x>.</x><y>1</y><z>7</z>4</span></div>
<div class="t c" style="left:1744.00px;top:1594.19px;font-size:35.00px;width:199.00px;"><span style="transform:scaleX(1.1600)">3<x>.</x><z>7</z><y>1</y>0<x>.</x>9<y>1</y>6</span></div>
<div class="t l" style="left:34.50px;top:1669.04px;font-size:37.50px;"><span style="transform:scaleX(1.0306)">AÑO ANTERIOR</span></div>
<div class="t c" style="left:483.00px;top:1671.19px;font-size:35.00px;width:207.00px;"><span style="transform:scaleX(1.1600)"><w>-</w>2<x>,</x><y>1</y>5</span></div>
<div class="t c" style="left:692.00px;top:1671.19px;font-size:35.00px;width:199.00px;"><span style="transform:scaleX(1.1600)"><w>-</w>4<x>,</x>87</span></div>
<div class="t c" style="left:893.00px;top:1671.19px;font-size:35.00px;width:235.00px;"><span style="transform:scaleX(1.1600)"><w>-</w>2<x>,</x><y>1</y>2</span></div>
<div class="t c" style="left:1130.00px;top:1671.19px;font-size:35.00px;width:211.00px;"><span style="transform:scaleX(1.1600)"><y>1</y><x>,</x>08</span></div>
<div class="t c" style="left:1343.00px;top:1671.19px;font-size:35.00px;width:198.00px;"><span style="transform:scaleX(1.1600)"><w>-</w>4<x>,</x>80</span></div>
<div class="t c" style="left:1543.00px;top:1671.19px;font-size:35.00px;width:199.00px;"><span style="transform:scaleX(1.1600)"><w>-</w><y>1</y><x>,</x><y>1</y>0</span></div>
<div class="t c" style="left:1744.00px;top:1671.19px;font-size:35.00px;width:199.00px;"><span style="transform:scaleX(1.1600)">6<x>,</x>57</span></div>
<div class="t l b" style="left:7.10px;top:1746.80px;font-size:40.00px;"><span style="transform:scaleX(1.0571)">Año</span></div>
<div class="t c b" style="left:483.00px;top:1747.06px;font-size:41.00px;width:207.00px;"><span style="transform:scaleX(1.1130)">2006</span></div>
<div class="t c b" style="left:692.00px;top:1747.06px;font-size:41.00px;width:199.00px;"><span style="transform:scaleX(1.1130)">2005</span></div>
<div class="t c b" style="left:893.00px;top:1747.06px;font-size:41.00px;width:235.00px;"><span style="transform:scaleX(1.1130)">2004</span></div>
<div class="t c b" style="left:1130.00px;top:1747.06px;font-size:41.00px;width:211.00px;"><span style="transform:scaleX(1.1130)">2003</span></div>
<div class="t c b" style="left:1343.00px;top:1747.06px;font-size:41.00px;width:198.00px;"><span style="transform:scaleX(1.1130)">2002</span></div>
<div class="t c b" style="left:1543.00px;top:1747.06px;font-size:41.00px;width:199.00px;"><span style="transform:scaleX(1.1130)">2001</span></div>
<div class="t c b" style="left:1744.00px;top:1747.06px;font-size:41.00px;width:199.00px;"><span style="transform:scaleX(1.1130)">2000</span></div>
<div class="t l" style="left:6.90px;top:1824.04px;font-size:37.50px;"><span style="transform:scaleX(1.0313)">AGRICULTURA</span></div>
<div class="t c" style="left:483.00px;top:1826.19px;font-size:35.00px;width:207.00px;"><span style="transform:scaleX(1.1600)">25<y>1</y><x>.</x>599</span></div>
<div class="t c" style="left:692.00px;top:1826.19px;font-size:35.00px;width:199.00px;"><span style="transform:scaleX(1.1600)">309<x>.</x>960</span></div>
<div class="t c" style="left:893.00px;top:1826.19px;font-size:35.00px;width:235.00px;"><span style="transform:scaleX(1.1600)">30<z>7</z><x>.</x>5<z>7</z>8</span></div>
<div class="t c" style="left:1130.00px;top:1826.19px;font-size:35.00px;width:211.00px;"><span style="transform:scaleX(1.1600)">3<y>1</y>6<x>.</x>965</span></div>
<div class="t c" style="left:1343.00px;top:1826.19px;font-size:35.00px;width:198.00px;"><span style="transform:scaleX(1.1600)">346<x>.</x>521</span></div>
<div class="t c" style="left:1543.00px;top:1826.19px;font-size:35.00px;width:199.00px;"><span style="transform:scaleX(1.1600)">295<x>.</x>539</span></div>
<div class="t c" style="left:1744.00px;top:1826.19px;font-size:35.00px;width:199.00px;"><span style="transform:scaleX(1.1600)">30<z>7</z><x>.</x><z>7</z>08</span></div>
<div class="t l" style="left:8.46px;top:1901.04px;font-size:37.50px;"><span style="transform:scaleX(1.0378)">INDUSTRIA</span></div>
<div class="t c" style="left:483.00px;top:1903.19px;font-size:35.00px;width:207.00px;"><span style="transform:scaleX(1.1600)">435<x>.</x>249</span></div>
<div class="t c" style="left:692.00px;top:1903.19px;font-size:35.00px;width:199.00px;"><span style="transform:scaleX(1.1600)">408<x>.</x>884</span></div>
<div class="t c" style="left:893.00px;top:1903.19px;font-size:35.00px;width:235.00px;"><span style="transform:scaleX(1.1600)">359<x>.</x>584</span></div>
<div class="t c" style="left:1130.00px;top:1903.19px;font-size:35.00px;width:211.00px;"><span style="transform:scaleX(1.1600)">33<z>7</z><x>.</x>534</span></div>
<div class="t c" style="left:1343.00px;top:1903.19px;font-size:35.00px;width:198.00px;"><span style="transform:scaleX(1.1600)">34<z>7</z><x>.</x><z>7</z>36</span></div>
<div class="t c" style="left:1543.00px;top:1903.19px;font-size:35.00px;width:199.00px;"><span style="transform:scaleX(1.1600)">308<x>.</x>288</span></div>
<div class="t c" style="left:1744.00px;top:1903.19px;font-size:35.00px;width:199.00px;"><span style="transform:scaleX(1.1600)">289<x>.</x>486</span></div>
<div class="t l" style="left:6.76px;top:1979.04px;font-size:37.50px;"><span style="transform:scaleX(1.0204)">CONSTRUCCIÓN</span></div>
<div class="t c" style="left:483.00px;top:1981.19px;font-size:35.00px;width:207.00px;"><span style="transform:scaleX(1.1600)">486<x>.</x>027</span></div>
<div class="t c" style="left:692.00px;top:1981.19px;font-size:35.00px;width:199.00px;"><span style="transform:scaleX(1.1600)">429<x>.</x>209</span></div>
<div class="t c" style="left:893.00px;top:1981.19px;font-size:35.00px;width:235.00px;"><span style="transform:scaleX(1.1600)">3<z>7</z>3<x>.</x>5<z>7</z>8</span></div>
<div class="t c" style="left:1130.00px;top:1981.19px;font-size:35.00px;width:211.00px;"><span style="transform:scaleX(1.1600)">320<x>.</x>666</span></div>
<div class="t c" style="left:1343.00px;top:1981.19px;font-size:35.00px;width:198.00px;"><span style="transform:scaleX(1.1600)">282<x>.</x>832</span></div>
<div class="t c" style="left:1543.00px;top:1981.19px;font-size:35.00px;width:199.00px;"><span style="transform:scaleX(1.1600)">263<x>.</x><y>1</y>51</span></div>
<div class="t c" style="left:1744.00px;top:1981.19px;font-size:35.00px;width:199.00px;"><span style="transform:scaleX(1.1600)">246<x>.</x>922</span></div>
<div class="t l" style="left:6.73px;top:2056.04px;font-size:37.50px;"><span style="transform:scaleX(1.0361)">COMERCIO</span></div>
<div class="t c" style="left:483.00px;top:2058.19px;font-size:35.00px;width:207.00px;"><span style="transform:scaleX(1.1600)">68<z>7</z><x>.</x>356</span></div>
<div class="t c" style="left:692.00px;top:2058.19px;font-size:35.00px;width:199.00px;"><span style="transform:scaleX(1.1600)">625<x>.</x>853</span></div>
<div class="t c" style="left:893.00px;top:2058.19px;font-size:35.00px;width:235.00px;"><span style="transform:scaleX(1.1600)">598<x>.</x>204</span></div>
<div class="t c" style="left:1130.00px;top:2058.19px;font-size:35.00px;width:211.00px;"><span style="transform:scaleX(1.1600)">559<x>.</x>423</span></div>
<div class="t c" style="left:1343.00px;top:2058.19px;font-size:35.00px;width:198.00px;"><span style="transform:scaleX(1.1600)">530<x>.</x><z>7</z>85</span></div>
<div class="t c" style="left:1543.00px;top:2058.19px;font-size:35.00px;width:199.00px;"><span style="transform:scaleX(1.1600)">502<x>.</x>9<y>1</y>4</span></div>
<div class="t c" style="left:1744.00px;top:2058.19px;font-size:35.00px;width:199.00px;"><span style="transform:scaleX(1.1600)">4<z>7</z>5<x>.</x>3<z>7</z>4</span></div>
<div class="t l" style="left:5.66px;top:2133.04px;font-size:37.50px;"><span style="transform:scaleX(1.0468)">SERVICIOS</span></div>
<div class="t c" style="left:483.00px;top:2135.19px;font-size:35.00px;width:207.00px;"><span style="transform:scaleX(1.1600)">526<x>.</x>662</span></div>
<div class="t c" style="left:692.00px;top:2135.19px;font-size:35.00px;width:199.00px;"><span style="transform:scaleX(1.1600)">460<x>.</x>590</span></div>
<div class="t c" style="left:893.00px;top:2135.19px;font-size:35.00px;width:235.00px;"><span style="transform:scaleX(1.1600)">4<y>1</y>8<x>.</x>459</span></div>
<div class="t c" style="left:1130.00px;top:2135.19px;font-size:35.00px;width:211.00px;"><span style="transform:scaleX(1.1600)">390<x>.</x>425</span></div>
<div class="t c" style="left:1343.00px;top:2135.19px;font-size:35.00px;width:198.00px;"><span style="transform:scaleX(1.1600)">3<z>7</z><y>1</y><x>.</x>9<y>1</y>6</span></div>
<div class="t c" style="left:1543.00px;top:2135.19px;font-size:35.00px;width:199.00px;"><span style="transform:scaleX(1.1600)">352<x>.</x><y>1</y>90</span></div>
<div class="t c" style="left:1744.00px;top:2135.19px;font-size:35.00px;width:199.00px;"><span style="transform:scaleX(1.1600)">3<y>1</y>9<x>.</x><z>7</z>37</span></div>
<div class="t l" style="left:7.50px;top:2210.04px;font-size:37.50px;"><span style="transform:scaleX(1.0068)">ADMINISTRAC. PÚBLICAS</span></div>
<div class="t c" style="left:483.00px;top:2212.19px;font-size:35.00px;width:207.00px;"><span style="transform:scaleX(1.1600)"><z>7</z>25<x>.</x>585</span></div>
<div class="t c" style="left:692.00px;top:2212.19px;font-size:35.00px;width:199.00px;"><span style="transform:scaleX(1.1600)">6<z>7</z>9<x>.</x>827</span></div>
<div class="t c" style="left:893.00px;top:2212.19px;font-size:35.00px;width:235.00px;"><span style="transform:scaleX(1.1600)">638<x>.</x><y>1</y>56</span></div>
<div class="t c" style="left:1130.00px;top:2212.19px;font-size:35.00px;width:211.00px;"><span style="transform:scaleX(1.1600)">644<x>.</x>2<y>1</y>3</span></div>
<div class="t c" style="left:1343.00px;top:2212.19px;font-size:35.00px;width:198.00px;"><span style="transform:scaleX(1.1600)">538<x>.</x>844</span></div>
<div class="t c" style="left:1543.00px;top:2212.19px;font-size:35.00px;width:199.00px;"><span style="transform:scaleX(1.1600)">505<x>.</x>9<z>7</z>7</span></div>
<div class="t c" style="left:1744.00px;top:2212.19px;font-size:35.00px;width:199.00px;"><span style="transform:scaleX(1.1600)">492<x>.</x><z>7</z><z>7</z>0</span></div>
<div class="t l b" style="left:6.80px;top:2288.60px;font-size:40.00px;"><span style="transform:scaleX(0.9788)">VALOR AÑADIDO TOTAL</span></div>
<div class="t c b" style="left:483.00px;top:2288.96px;font-size:41.00px;width:207.00px;"><span style="transform:scaleX(1.1130)">3<x>.</x><y>1</y><y>1</y>2<x>.</x>4<z>7</z>8</span></div>
<div class="t c b" style="left:692.00px;top:2288.96px;font-size:41.00px;width:199.00px;"><span style="transform:scaleX(1.1130)">2<x>.</x>9<y>1</y>4<x>.</x>323</span></div>
<div class="t c b" style="left:893.00px;top:2288.96px;font-size:41.00px;width:235.00px;"><span style="transform:scaleX(1.1130)">2<x>.</x>695<x>.</x>559</span></div>
<div class="t c b" style="left:1130.00px;top:2288.96px;font-size:41.00px;width:211.00px;"><span style="transform:scaleX(1.1130)">2<x>.</x>569<x>.</x>226</span></div>
<div class="t c b" style="left:1343.00px;top:2288.96px;font-size:41.00px;width:198.00px;"><span style="transform:scaleX(1.1130)">2<x>.</x>4<y>1</y>8<x>.</x>634</span></div>
<div class="t c b" style="left:1543.00px;top:2288.96px;font-size:41.00px;width:199.00px;"><span style="transform:scaleX(1.1130)">2<x>.</x>228<x>.</x>059</span></div>
<div class="t c b" style="left:1744.00px;top:2288.96px;font-size:41.00px;width:199.00px;"><span style="transform:scaleX(1.1130)">2<x>.</x><y>1</y>3<y>1</y><x>.</x>997</span></div>
<div class="t l" style="left:8.47px;top:2365.04px;font-size:37.50px;"><span style="transform:scaleX(1.0305)">IMPUESTOS NETOS</span></div>
<div class="t c" style="left:483.00px;top:2367.19px;font-size:35.00px;width:207.00px;"><span style="transform:scaleX(1.1600)">369<x>.</x>665</span></div>
<div class="t c" style="left:692.00px;top:2367.19px;font-size:35.00px;width:199.00px;"><span style="transform:scaleX(1.1600)">332<x>.</x>4<y>1</y>6</span></div>
<div class="t c" style="left:893.00px;top:2367.19px;font-size:35.00px;width:235.00px;"><span style="transform:scaleX(1.1600)">292<x>.</x>238</span></div>
<div class="t c" style="left:1130.00px;top:2367.19px;font-size:35.00px;width:211.00px;"><span style="transform:scaleX(1.1600)">262<x>.</x>551</span></div>
<div class="t c" style="left:1343.00px;top:2367.19px;font-size:35.00px;width:198.00px;"><span style="transform:scaleX(1.1600)">234<x>.</x>652</span></div>
<div class="t c" style="left:1543.00px;top:2367.19px;font-size:35.00px;width:199.00px;"><span style="transform:scaleX(1.1600)">2<y>1</y>5<x>.</x><z>7</z>05</span></div>
<div class="t c" style="left:1744.00px;top:2367.19px;font-size:35.00px;width:199.00px;"><span style="transform:scaleX(1.1600)">2<y>1</y>3<x>.</x>0<z>7</z>0</span></div>
<div class="t l" style="left:9.68px;top:2442.04px;font-size:37.50px;"><span style="transform:scaleX(1.0230)">PIB a precios de mercado</span></div>
<div class="t c" style="left:483.00px;top:2444.19px;font-size:35.00px;width:207.00px;"><span style="transform:scaleX(1.1600)">3<x>.</x>482<x>.</x><y>1</y>43</span></div>
<div class="t c" style="left:692.00px;top:2444.19px;font-size:35.00px;width:199.00px;"><span style="transform:scaleX(1.1600)">3<x>.</x>246<x>.</x><z>7</z>39</span></div>
<div class="t c" style="left:893.00px;top:2444.19px;font-size:35.00px;width:235.00px;"><span style="transform:scaleX(1.1600)">2<x>.</x>98<z>7</z><x>.</x><z>7</z>97</span></div>
<div class="t c" style="left:1130.00px;top:2444.19px;font-size:35.00px;width:211.00px;"><span style="transform:scaleX(1.1600)">2<x>.</x>83<y>1</y><x>.</x><z>7</z><z>7</z>7</span></div>
<div class="t c" style="left:1343.00px;top:2444.19px;font-size:35.00px;width:198.00px;"><span style="transform:scaleX(1.1600)">2<x>.</x>653<x>.</x>286</span></div>
<div class="t c" style="left:1543.00px;top:2444.19px;font-size:35.00px;width:199.00px;"><span style="transform:scaleX(1.1600)">2<x>.</x>443<x>.</x><z>7</z>64</span></div>
<div class="t c" style="left:1744.00px;top:2444.19px;font-size:35.00px;width:199.00px;"><span style="transform:scaleX(1.1600)">2<x>.</x>345<x>.</x>067</span></div>
<div class="t l" style="left:34.50px;top:2520.04px;font-size:37.50px;"><span style="transform:scaleX(1.0306)">AÑO ANTERIOR</span></div>
<div class="t c" style="left:483.00px;top:2522.19px;font-size:35.00px;width:207.00px;"><span style="transform:scaleX(1.1600)"><z>7</z><x>,</x>25</span></div>
<div class="t c" style="left:692.00px;top:2522.19px;font-size:35.00px;width:199.00px;"><span style="transform:scaleX(1.1600)">8<x>,</x>67</span></div>
<div class="t c" style="left:893.00px;top:2522.19px;font-size:35.00px;width:235.00px;"><span style="transform:scaleX(1.1600)">5<x>,</x>51</span></div>
<div class="t c" style="left:1130.00px;top:2522.19px;font-size:35.00px;width:211.00px;"><span style="transform:scaleX(1.1600)">6<x>,</x><z>7</z>3</span></div>
<div class="t c" style="left:1343.00px;top:2522.19px;font-size:35.00px;width:198.00px;"><span style="transform:scaleX(1.1600)">8<x>,</x>57</span></div>
<div class="t c" style="left:1543.00px;top:2522.19px;font-size:35.00px;width:199.00px;"><span style="transform:scaleX(1.1600)">4<x>,</x>21</span></div>
<div class="r" style="left:4px;top:5px;width:1941px;height:2px;background:#0d0d0d"></div>
<div class="r" style="left:4px;top:82px;width:1941px;height:2px;background:#0d0d0d"></div>
<div class="r" style="left:4px;top:160px;width:1941px;height:2px;background:#0d0d0d"></div>
<div class="r" style="left:4px;top:237px;width:1941px;height:2px;background:#0d0d0d"></div>
<div class="r" style="left:4px;top:314px;width:1941px;height:2px;background:#0d0d0d"></div>
<div class="r" style="left:4px;top:392px;width:1941px;height:2px;background:#0d0d0d"></div>
<div class="r" style="left:4px;top:469px;width:1941px;height:2px;background:#0d0d0d"></div>
<div class="r" style="left:4px;top:546px;width:1941px;height:2px;background:#0d0d0d"></div>
<div class="r" style="left:4px;top:623px;width:1941px;height:2px;background:#0d0d0d"></div>
<div class="r" style="left:4px;top:701px;width:1941px;height:2px;background:#0d0d0d"></div>
<div class="r" style="left:4px;top:778px;width:1941px;height:2px;background:#0d0d0d"></div>
<div class="r" style="left:4px;top:855px;width:1941px;height:2px;background:#0d0d0d"></div>
<div class="r" style="left:4px;top:933px;width:1941px;height:2px;background:#0d0d0d"></div>
<div class="r" style="left:4px;top:1010px;width:1941px;height:2px;background:#0d0d0d"></div>
<div class="r" style="left:4px;top:1087px;width:1941px;height:2px;background:#0d0d0d"></div>
<div class="r" style="left:4px;top:1164px;width:1941px;height:2px;background:#0d0d0d"></div>
<div class="r" style="left:4px;top:1242px;width:1941px;height:2px;background:#0d0d0d"></div>
<div class="r" style="left:4px;top:1319px;width:1941px;height:2px;background:#0d0d0d"></div>
<div class="r" style="left:4px;top:1396px;width:1941px;height:2px;background:#0d0d0d"></div>
<div class="r" style="left:4px;top:1474px;width:1941px;height:2px;background:#0d0d0d"></div>
<div class="r" style="left:4px;top:1551px;width:1941px;height:2px;background:#0d0d0d"></div>
<div class="r" style="left:4px;top:1628px;width:1941px;height:2px;background:#0d0d0d"></div>
<div class="r" style="left:4px;top:1706px;width:1941px;height:2px;background:#0d0d0d"></div>
<div class="r" style="left:4px;top:1783px;width:1941px;height:2px;background:#0d0d0d"></div>
<div class="r" style="left:4px;top:1860px;width:1941px;height:2px;background:#0d0d0d"></div>
<div class="r" style="left:4px;top:1938px;width:1941px;height:2px;background:#0d0d0d"></div>
<div class="r" style="left:4px;top:2015px;width:1941px;height:2px;background:#0d0d0d"></div>
<div class="r" style="left:4px;top:2092px;width:1941px;height:2px;background:#0d0d0d"></div>
<div class="r" style="left:4px;top:2169px;width:1941px;height:2px;background:#0d0d0d"></div>
<div class="r" style="left:4px;top:2247px;width:1941px;height:2px;background:#0d0d0d"></div>
<div class="r" style="left:4px;top:2324px;width:1941px;height:2px;background:#0d0d0d"></div>
<div class="r" style="left:4px;top:2401px;width:1941px;height:2px;background:#0d0d0d"></div>
<div class="r" style="left:4px;top:2479px;width:1941px;height:2px;background:#0d0d0d"></div>
<div class="r" style="left:4px;top:2556px;width:1941px;height:2px;background:#0d0d0d"></div>
<div class="r" style="left:4px;top:5px;width:2px;height:2553px;background:#0d0d0d"></div>
<div class="r" style="left:481px;top:5px;width:2px;height:2553px;background:#0d0d0d"></div>
<div class="r" style="left:690px;top:5px;width:2px;height:2553px;background:#0d0d0d"></div>
<div class="r" style="left:891px;top:5px;width:2px;height:2553px;background:#0d0d0d"></div>
<div class="r" style="left:1128px;top:5px;width:2px;height:2553px;background:#0d0d0d"></div>
<div class="r" style="left:1341px;top:5px;width:2px;height:2553px;background:#0d0d0d"></div>
<div class="r" style="left:1541px;top:5px;width:2px;height:2553px;background:#0d0d0d"></div>
<div class="r" style="left:1742px;top:5px;width:2px;height:2553px;background:#0d0d0d"></div>
<div class="r" style="left:1943px;top:5px;width:2px;height:2553px;background:#0d0d0d"></div>
</body></html>
